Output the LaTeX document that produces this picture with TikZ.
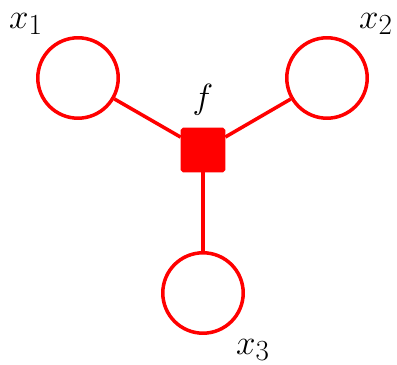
\documentclass[tikz,border=0pt]{standalone}
\usepackage{tikz}
\usetikzlibrary{positioning}
\tikzset{
  varnode/.style={circle, draw=red, line width=2.5pt, minimum size=2.01cm, inner sep=0pt},
  factornode/.style={rectangle, rounded corners=1pt, draw=red, fill=red, line width=2.5pt, minimum size=1.03cm, inner sep=0pt},
  edgeline/.style={draw=red, line width=2.5pt},
  varlabel/.style={font=\fontsize{31}{37}\selectfont, inner sep=0pt}
}

\begin{document}
\begin{tikzpicture}[x=0.025cm, y=-0.025cm]
  \useasboundingbox (0,0) rectangle (397,365);
  % variables and factor
  \node[varnode] (x1) at (78,78) {};
  \node[varnode] (x2) at (327,78) {};
  \node[varnode] (x3) at (203,293) {};
  \node[factornode] (f) at (203,150) {};
  % labels
  \node[varlabel] (lx1) at (26,24) {$x_1$};
  \node[varlabel] (lx2) at (376,24) {$x_2$};
  \node[varlabel] (lx3) at (253,350) {$x_3$};
  \node[varlabel] (lf) at (203,100) {$f$};
  % edges
  \draw[edgeline] (x1) -- (f);
  \draw[edgeline] (x2) -- (f);
  \draw[edgeline] (x3) -- (f);
\end{tikzpicture}
\end{document}
